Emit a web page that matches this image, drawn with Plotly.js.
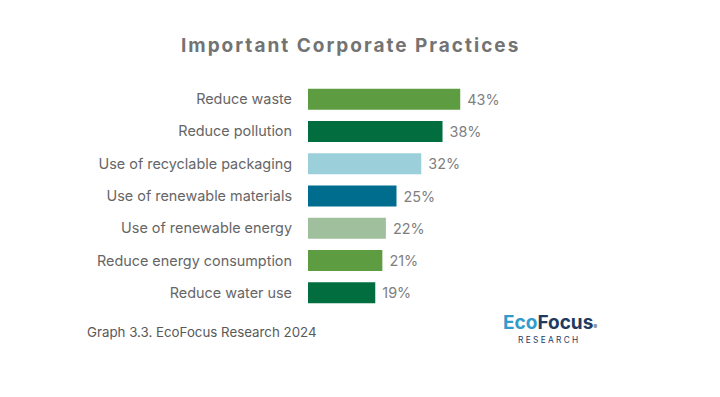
<!DOCTYPE html>
<html>
<head>
<meta charset="utf-8">
<script src="https://cdn.plot.ly/plotly-3.0.1.min.js"></script>
<style>
html,body{margin:0;padding:0;background:#fff;}
#chart{width:720px;height:397px;}
.gtitle{letter-spacing:2px;}
</style>
</head>
<body>
<div id="chart"></div>
<script>
const categories = ["Reduce waste","Reduce pollution","Use of recyclable packaging","Use of renewable materials","Use of renewable energy","Reduce energy consumption","Reduce water use"];
const values = [43, 38, 32, 25, 22, 21, 19];
const barColors = ["#5E9C42","#026D3F","#9BD0DA","#006C8E","#9FBF9D","#5E9C42","#026D3F"];
const chartTitle = "Important Corporate Practices";
const footer = "Graph 3.3. EcoFocus Research 2024";

const FONT = "Inter, 'Open Sans', sans-serif";

const trace = {
  type: "bar",
  orientation: "h",
  x: values,
  y: categories,
  marker: {color: barColors},
  text: values.map(v => v + "%"),
  texttemplate: " %{text}",
  textposition: "outside",
  cliponaxis: false,
  textfont: {family: FONT, size: 14.4, color: "#7F7F7F"},
  hoverinfo: "skip"
};

const layout = {
  width: 720, height: 397,
  margin: {l: 308, r: 235, t: 83, b: 88},
  paper_bgcolor: "#fff", plot_bgcolor: "#fff",
  showlegend: false,
  bargap: 0.35,
  title: {
    text: "<b>" + chartTitle + "</b>",
    x: 0.487, xanchor: "center", y: 0.885, yanchor: "middle",
    font: {family: FONT, size: 19, color: "#737373"}
  },
  xaxis: {range: [0, 50], visible: false, fixedrange: true},
  yaxis: {
    type: "category",
    autorange: "reversed",
    showgrid: false, zeroline: false, showline: false, ticks: "",
    ticklabelstandoff: 15,
    tickfont: {family: FONT, size: 14.4, color: "#666666"}
  },
  annotations: [
    {text: footer, xref: "paper", yref: "paper", x: -0.05, xanchor: "left", y: -0.102, yanchor: "middle",
     showarrow: false, font: {family: FONT, size: 13.3, color: "#595959"}, xshift: -214},
    {text: "<b><span style='color:#2F9CCB'>Eco</span><span style='color:#1F3B61'>Focus</span></b><span style='color:#1F3B61;font-size:6px'>®</span>",
     xref: "paper", yref: "paper", x: 1, xanchor: "center", y: -0.0597, yanchor: "middle", borderpad: 0,
     xshift: 65, showarrow: false, font: {family: FONT, size: 19, color: "#1F3B61"}},
    {text: "R E S E A R C H", xref: "paper", yref: "paper", x: 1, xanchor: "center", y: -0.135, yanchor: "middle", borderpad: 0,
     xshift: 63, showarrow: false, font: {family: FONT, size: 8.3, color: "#1F3B61"}}
  ]
};

Plotly.newPlot("chart", [trace], layout, {displayModeBar: false, staticPlot: true});
</script>
</body>
</html>
